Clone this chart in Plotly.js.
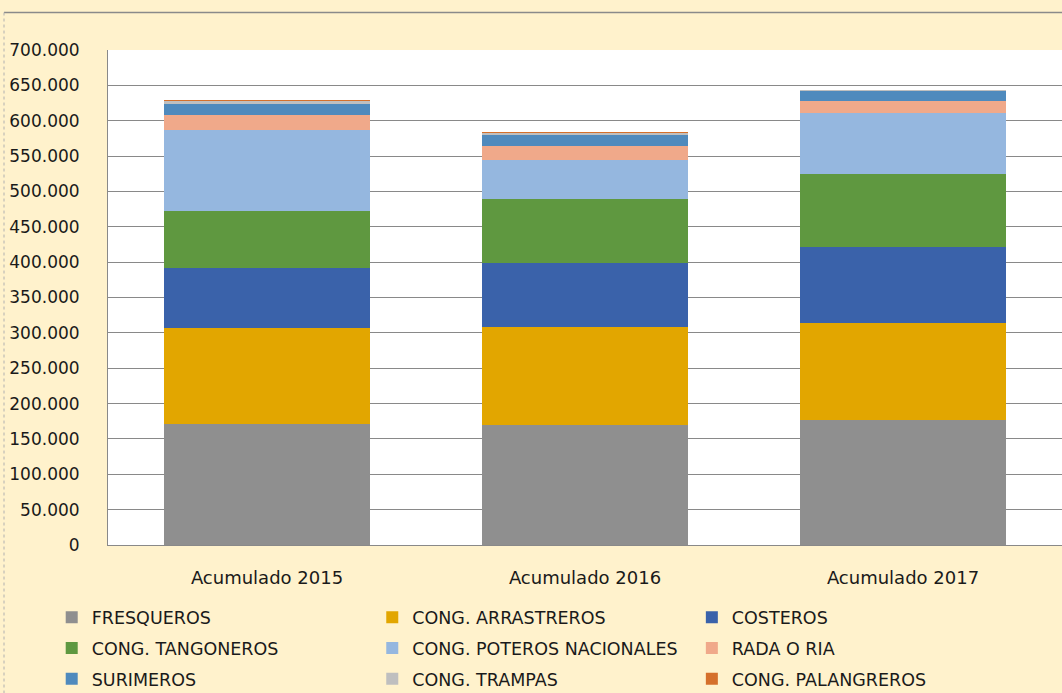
<!DOCTYPE html>
<html>
<head>
<meta charset="utf-8">
<script src="https://cdn.plot.ly/plotly-3.0.1.min.js"></script>
<style>html,body{margin:0;padding:0;background:#FFF2CC;}#chart{width:1062px;height:693px;}</style>
</head>
<body>
<div id="chart"></div>
<script>
const categories = ["Acumulado 2015", "Acumulado 2016", "Acumulado 2017"];
const seriesNames = ["FRESQUEROS", "CONG. ARRASTREROS", "COSTEROS", "CONG. TANGONEROS", "CONG. POTEROS NACIONALES", "RADA O RIA", "SURIMEROS", "CONG. TRAMPAS", "CONG. PALANGREROS"];
const fresqueros  = [170700, 169300, 177300];
const arrastreros = [136400, 139200, 136000];
const costeros    = [84500, 90700, 107700];
const tangoneros  = [80800, 90200, 103800];
const poteros     = [115100, 55600, 86000];
const rada        = [20900, 19400, 17400];
const surimeros   = [15600, 15600, 13200];
const trampas     = [4200, 3300, 1400];
const palangreros = [1400, 1400, 300];
const seriesValues = [fresqueros, arrastreros, costeros, tangoneros, poteros, rada, surimeros, trampas, palangreros];
const seriesColors = ["#8F8F8F", "#E2A600", "#3A62AA", "#5F9840", "#95B7DF", "#F0A98A", "#4F8ABD", "#BFBFBF", "#D5702B"];
const legendOf = ["legend", "legend2", "legend3", "legend", "legend2", "legend3", "legend", "legend2", "legend3"];

const FONT = "DejaVu Sans";
const traces = seriesNames.map((n, i) => ({
  type: "bar", name: n, x: categories, y: seriesValues[i],
  marker: {color: seriesColors[i], line: {width: 0}},
  legend: legendOf[i], legendgroup: "g" + i, hoverinfo: "skip"
}));

const legBase = {
  orientation: "v", yanchor: "top", y: -0.110, xanchor: "left",
  bgcolor: "rgba(0,0,0,0)", font: {family: FONT, size: 17.5, color: "#1a1a1a"},
  tracegroupgap: 5, itemclick: false
};

const layout = {
  width: 1062, height: 693,
  paper_bgcolor: "#FFF2CC", plot_bgcolor: "#FFFFFF",
  margin: {l: 108, r: 0, t: 50, b: 148, pad: 0, autoexpand: false},
  separators: ",.",
  barmode: "stack", bargap: 0.35,
  showlegend: true,
  font: {family: FONT, color: "#1a1a1a"},
  xaxis: {
    type: "category", showline: true, linecolor: "#898989", linewidth: 1,
    ticks: "", tickfont: {family: FONT, size: 18, color: "#1a1a1a"},
    ticklabelstandoff: 16, showgrid: false, fixedrange: true, automargin: false
  },
  yaxis: {
    range: [0, 700000], dtick: 50000, tickformat: ",d",
    showgrid: true, gridcolor: "#898989", gridwidth: 1,
    showline: true, linecolor: "#898989", linewidth: 1,
    ticks: "", tickfont: {family: FONT, size: 17, color: "#1a1a1a"},
    ticklabelstandoff: 24, zeroline: false, fixedrange: true, automargin: false
  },
  legend: Object.assign({}, legBase, {x: -0.059}),
  legend2: Object.assign({}, legBase, {x: 0.277}),
  legend3: Object.assign({}, legBase, {x: 0.612}),
  shapes: [
    {type: "line", xref: "paper", yref: "paper", x0: -0.109, x1: 1.01, y0: 1.0757, y1: 1.0757, line: {color: "#8a8a8a", width: 1.5}},
    {type: "line", xref: "paper", yref: "paper", x0: -0.109, x1: -0.109, y0: 1.0757, y1: -0.32, line: {color: "#b0b0b0", width: 1, dash: "dot"}}
  ]
};

Plotly.newPlot("chart", traces, layout, {displayModeBar: false, staticPlot: true});
</script>
</body>
</html>
